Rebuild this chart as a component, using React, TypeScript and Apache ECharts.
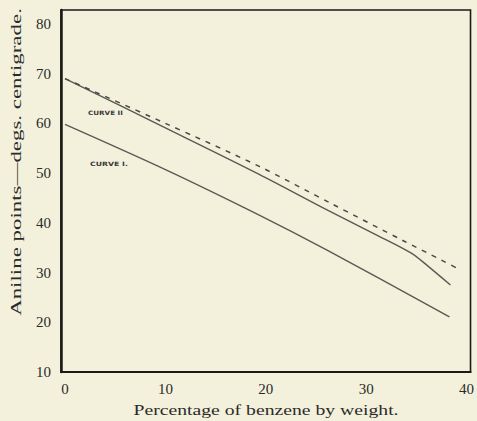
import React, { useEffect, useRef } from "react";
import * as echarts from "echarts";

// Percentage of benzene by weight (x) vs aniline point (y)
const curve1X = [0, 9.9, 19.3, 26.2, 38.3];
const curve1Y = [59.8, 50.8, 41.6, 34.4, 21.1];

const curve2X = [0, 9.9, 19.3, 26.2, 31.2, 34.5, 36.1, 38.4];
const curve2Y = [69.0, 59.2, 49.8, 42.5, 37.4, 33.9, 31.4, 27.5];

const dashX = [0, 9.9, 19.3, 26.5, 33.8, 37.5, 39.4];
const dashY = [69.0, 60.1, 51.4, 43.9, 36.3, 32.5, 30.5];

const xTicks = [0, 10, 20, 30, 40];
const yTicks = [10, 20, 30, 40, 50, 60, 70, 80];

const curveLabels = ["CURVE II", "CURVE I."];
const xTitle = "Percentage of benzene by weight.";
const yTitle = "Aniline points\u2014degs. centigrade.";

const zip = (xs: number[], ys: number[]) => xs.map((x, i) => [x, ys[i]]);

function measure(text: string, font: string): number {
  const c = document.createElement("canvas");
  const ctx = c.getContext("2d");
  if (!ctx) return text.length * 7;
  ctx.font = font;
  return ctx.measureText(text).width;
}

export default function App() {
  const ref = useRef<HTMLDivElement>(null);
  useEffect(() => {
    if (!ref.current) return;
    const chart = echarts.init(ref.current, undefined, { renderer: "svg" });
    const serif = "'Liberation Serif', 'DejaVu Serif', serif";
    const ink = "#2a2a2a";
    const lineCol = "#5a5a55";

    const yTitleSize = 14;
    const yTitleW = measure(yTitle, `${yTitleSize}px Liberation Serif`);
    const yScale = 308 / yTitleW;
    const xTitleSize = 14;
    const xTitleW = measure(xTitle, `${xTitleSize}px Liberation Serif`);
    const xScale = 265 / xTitleW;
    const lblSize = 6;
    const l0W = measure(curveLabels[0], `bold ${lblSize}px DejaVu Sans`);
    const l1W = measure(curveLabels[1], `bold ${lblSize}px DejaVu Sans`);

    chart.setOption({
      animation: false,
      backgroundColor: "#f3f1dc",
      grid: {
        left: 61,
        right: 4,
        top: 10,
        bottom: 49,
        show: true,
        borderColor: "#1a1a1a",
        borderWidth: 1.6,
      },
      xAxis: {
        type: "value",
        min: -0.4,
        max: 40.4,
        axisLine: { show: true, onZero: false, lineStyle: { color: "#1a1a1a", width: 2.2 } },
        axisTick: { show: false },
        splitLine: { show: false },
        axisLabel: {
          customValues: xTicks,
          margin: 9,
          fontFamily: serif,
          fontSize: 15,
          color: ink,
        },
      },
      yAxis: {
        type: "value",
        min: 10,
        max: 82.8,
        axisLine: { show: true, onZero: false, lineStyle: { color: "#1a1a1a", width: 2.5 } },
        axisTick: { show: false },
        splitLine: { show: false },
        axisLabel: {
          customValues: yTicks,
          margin: 10,
          fontFamily: serif,
          fontSize: 15,
          color: ink,
        },
      },
      series: [
        {
          type: "line",
          data: zip(curve1X, curve1Y),
          symbol: "none",
          smooth: 0.3,
          lineStyle: { color: lineCol, width: 1.4 },
        },
        {
          type: "line",
          data: zip(curve2X, curve2Y),
          symbol: "none",
          smooth: 0.3,
          lineStyle: { color: lineCol, width: 1.4 },
        },
        {
          type: "line",
          data: zip(dashX, dashY),
          symbol: "none",
          smooth: 0.3,
          lineStyle: { color: "#4a4a45", width: 1.5, type: [5, 6] },
        },
      ],
      graphic: [
        {
          type: "text",
          x: 16,
          y: 162,
          rotation: Math.PI / 2,
          scaleX: yScale,
          style: {
            text: yTitle,
            font: `${yTitleSize}px ${serif}`,
            fill: ink,
            align: "center",
            verticalAlign: "middle",
          },
        },
        {
          type: "text",
          x: 266,
          y: 410,
          scaleX: xScale,
          style: {
            text: xTitle,
            font: `${xTitleSize}px ${serif}`,
            fill: ink,
            align: "center",
            verticalAlign: "middle",
          },
        },
        {
          type: "text",
          x: 88,
          y: 113,
          scaleX: 35 / l0W,
          style: {
            text: curveLabels[0],
            font: `bold ${lblSize}px 'DejaVu Sans', sans-serif`,
            fill: "#3a3a3a",
            align: "left",
            verticalAlign: "middle",
          },
        },
        {
          type: "text",
          x: 90,
          y: 164,
          scaleX: 38 / l1W,
          style: {
            text: curveLabels[1],
            font: `bold ${lblSize}px 'DejaVu Sans', sans-serif`,
            fill: "#3a3a3a",
            align: "left",
            verticalAlign: "middle",
          },
        },
      ],
    });
    return () => chart.dispose();
  }, []);
  return (
    <div
      ref={ref}
      style={{ position: "fixed", left: 0, top: 0, width: 477, height: 421 }}
    />
  );
}
